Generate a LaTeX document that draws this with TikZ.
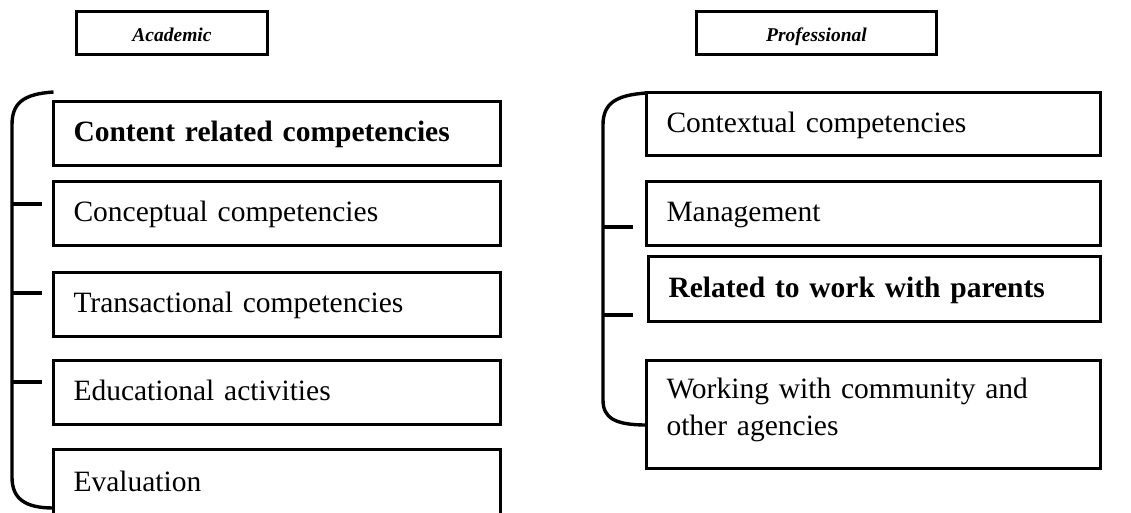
\documentclass[tikz,border=0pt]{standalone}
\usepackage{fontspec}
\setmainfont{Liberation Serif}
\begin{document}
\begin{tikzpicture}[x=1pt,y=-1pt,line width=3.4pt,
  box/.style={draw,rectangle,anchor=north west,outer sep=0pt,inner xsep=20pt,inner ysep=0pt,
    align=left,font=\fontsize{29.5pt}{37pt}\selectfont,text height=22pt,text depth=6pt},
  lbox/.style={box,text width=407pt,minimum height=64pt},
  rbox/.style={box,text width=414pt,minimum height=64pt},
  head/.style={draw,rectangle,anchor=north west,outer sep=0pt,inner sep=0pt,minimum height=43pt,
    text height=17pt,text depth=0pt,font=\fontsize{19.5pt}{23pt}\selectfont\bfseries\itshape}]
  \useasboundingbox (0,0) rectangle (1131,512);
  % headings
  \node[head,minimum width=191pt] (acad) at (76.5,11.5) {Academic};
  \node[head,minimum width=240pt] (prof) at (696.5,11.5) {Professional};
  % academic column
  \node[lbox] (content) at (53.5,101.5) {\textbf{Content related competencies}};
  \node[lbox] (concept) at (53.5,181.5) {Conceptual competencies};
  \node[lbox] (trans) at (53.5,272.5) {Transactional competencies};
  \node[lbox] (edu) at (53.5,360.5) {Educational activities};
  \node[lbox,minimum height=68pt] (eval) at (53.5,449.5) {Evaluation};
  % professional column
  \node[rbox,minimum height=63pt] (context) at (646.5,92.5) {Contextual competencies};
  \node[rbox] (manage) at (646.5,181.5) {Management};
  \node[rbox,text width=412pt,minimum height=65pt] (parents) at (648.5,256.5) {\textbf{Related to work with parents}};
  \node[rbox,minimum height=108pt,text depth=54pt] (commun) at (646.5,360.5) {Working with community and\\other agencies};
  % brackets
  \draw (content.north west |- 0,92) .. controls (22,94) and (12,104) .. (12,125)
    -- (12,477) .. controls (12,498) and (24,508) .. (eval.west |- 0,508);
  \foreach \y in {204,293,382}
    \draw (12,\y) -- ++(30,0);
  \draw (context.north west |- 0,93) .. controls (615,95) and (603,104) .. (603,125)
    -- (603,400) .. controls (603,418) and (615,425) .. (commun.west |- 0,425);
  \foreach \y in {227,315}
    \draw (603,\y) -- ++(30,0);
\end{tikzpicture}
\end{document}
